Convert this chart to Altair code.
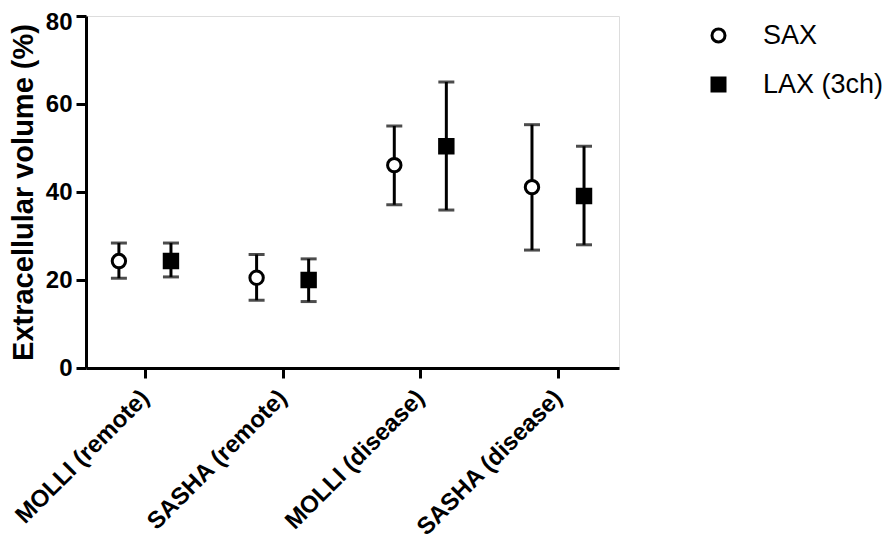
import altair as alt
import pandas as pd

categories = ["MOLLI (remote)", "SASHA (remote)", "MOLLI (disease)", "SASHA (disease)"]
series = ["SAX", "LAX (3ch)"]

sax_mean = [24.3, 20.5, 46.1, 41.1]
sax_low = [20.4, 15.4, 37.1, 26.8]
sax_high = [28.4, 25.8, 55.0, 55.3]

lax_mean = [24.3, 20.0, 50.4, 39.1]
lax_low = [20.7, 15.1, 35.9, 28.0]
lax_high = [28.4, 24.8, 65.0, 50.4]

y_ticks = [0, 20, 40, 60, 80]

dodge = {"SAX": -0.189, "LAX (3ch)": 0.189}
rows = []
for s, m, lo, hi in [("SAX", sax_mean, sax_low, sax_high), ("LAX (3ch)", lax_mean, lax_low, lax_high)]:
    for i, c in enumerate(categories):
        rows.append({"category": c, "series": s, "pos": i + dodge[s],
                     "mean": m[i], "low": lo[i], "high": hi[i]})
df = pd.DataFrame(rows)

FONT = "Liberation Sans"
label_expr = "[" + ",".join('"%s"' % c for c in categories) + "][datum.value]"

x_enc = alt.X("pos:Q", scale=alt.Scale(domain=[-0.428, 3.443], nice=False, zero=False),
              axis=alt.Axis(values=[0, 1, 2, 3], labelExpr=label_expr, title=None,
                            labelAngle=-45, labelAlign="right", labelBaseline="middle",
                            labelFont=FONT, labelFontSize=24, labelFontWeight="bold",
                            labelColor="black", labelPadding=16, labelLimit=0,
                            tickSize=10, tickWidth=3,
                            tickColor="black", domainWidth=3, domainColor="black",
                            grid=False, labelOverlap=False, labelFlush=False))
y_scale = alt.Scale(domain=[0, 80], nice=False)
y_axis = alt.Axis(values=y_ticks, title="Extracellular volume (%)", titleFont=FONT,
                  titleFontSize=29, titleFontWeight="bold", titleColor="black",
                  titlePadding=7, labelFont=FONT, labelFontSize=24, labelFontWeight="bold",
                  labelColor="black", labelPadding=4,
                  labelOffset={"condition": {"test": "datum.value == 80", "value": 6}, "value": 0},
                  tickSize=10, tickWidth=3,
                  tickColor="black", domainWidth=3, domainColor="black", grid=False)

base = alt.Chart(df)

rules = base.mark_rule(color="black", strokeWidth=3).encode(
    x=x_enc,
    y=alt.Y("low:Q", scale=y_scale, axis=y_axis),
    y2="high:Q",
)
cap_lo = base.mark_tick(color="black", orient="horizontal", size=16, thickness=3).encode(
    x="pos:Q", y="low:Q")
cap_hi = base.mark_tick(color="black", orient="horizontal", size=16, thickness=3).encode(
    x="pos:Q", y="high:Q")

legend = alt.Legend(title=None, orient="none", legendX=619, legendY=6,
                    labelFont=FONT, labelFontSize=27, labelColor="black",
                    labelOffset=31, rowPadding=21, symbolSize=169,
                    symbolStrokeWidth=3, padding=0)

points = base.mark_point(filled=True, strokeWidth=3, opacity=1).encode(
    x="pos:Q",
    y="mean:Q",
    shape=alt.Shape("series:N", scale=alt.Scale(domain=series, range=["circle", "square"]),
                    legend=legend),
    fill=alt.Fill("series:N", scale=alt.Scale(domain=series, range=["white", "black"]),
                  legend=legend),
    stroke=alt.Stroke("series:N", scale=alt.Scale(domain=series, range=["black", "black"]),
                      legend=legend),
    size=alt.value(180),
)

chart = alt.layer(rules, cap_lo, cap_hi, points).properties(
    width=533, height=352,
    padding={"left": 78, "top": 8, "right": 267, "bottom": 177},
    autosize=alt.AutoSizeParams(type="none"),
).configure_view(stroke=None).configure(background="white")

chart.save("out.html", embed_options={"renderer": "svg", "actions": False})
